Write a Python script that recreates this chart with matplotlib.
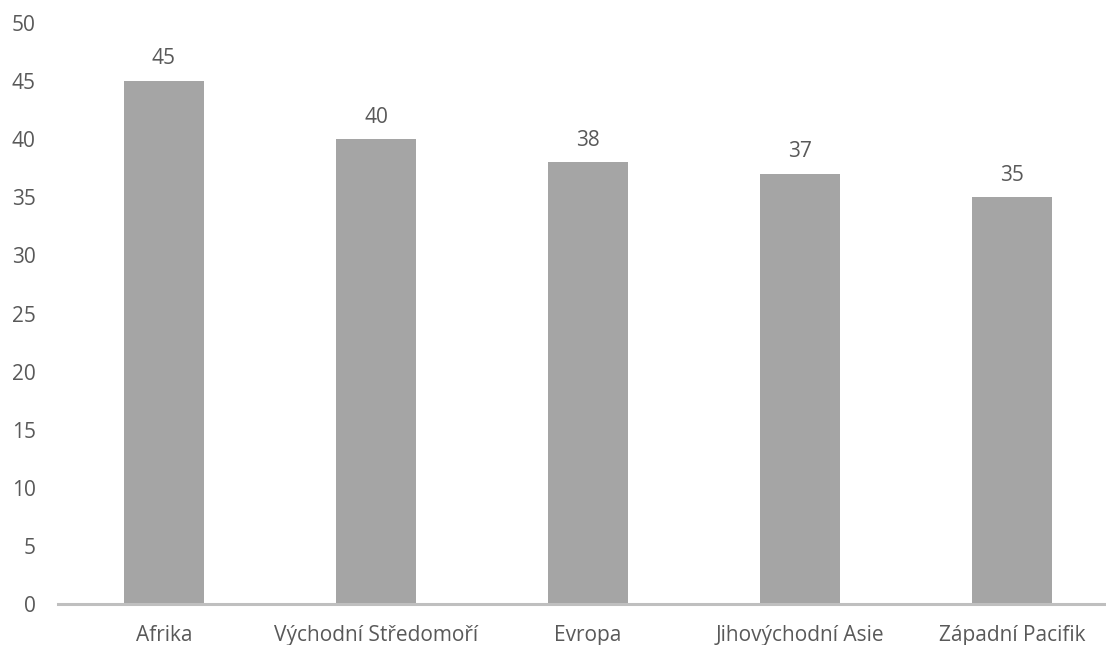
import matplotlib
matplotlib.use("Agg")
import matplotlib.pyplot as plt

regions = ["Afrika", "Východní Středomoří", "Evropa", "Jihovýchodní Asie", "Západní Pacifik"]
values = [45, 40, 38, 37, 35]
y_ticks = [0, 5, 10, 15, 20, 25, 30, 35, 40, 45, 50]

plt.rcParams["font.family"] = ["Open Sans", "DejaVu Sans"]
text_color = "#595959"

fig = plt.figure(figsize=(11.06, 6.45), dpi=100)
ax = fig.add_axes([58 / 1106, 41 / 645, 1060 / 1106, 581 / 645])

x = list(range(len(regions)))
bars = ax.bar(x, values, width=0.38, color="#A5A5A5", zorder=2)

for xi, v in zip(x, values):
    ax.annotate(str(v), (xi, v), xytext=(0, 12), textcoords="offset points",
                ha="center", va="baseline", fontsize=15, color=text_color)

ax.set_xlim(-0.5, len(regions) - 0.5)
ax.set_ylim(0, 50)
ax.set_yticks(y_ticks)
ax.set_xticks(x)
ax.set_xticklabels(regions)
ax.tick_params(axis="both", length=0, labelsize=15, labelcolor=text_color)
ax.tick_params(axis="y", pad=16)
ax.tick_params(axis="x", pad=15)

for side in ["left", "right", "top"]:
    ax.spines[side].set_visible(False)
ax.spines["bottom"].set_color("#BFBFBF")
ax.spines["bottom"].set_linewidth(2.2)
ax.spines["bottom"].set_zorder(3)

fig.savefig("out.png", dpi=100)
